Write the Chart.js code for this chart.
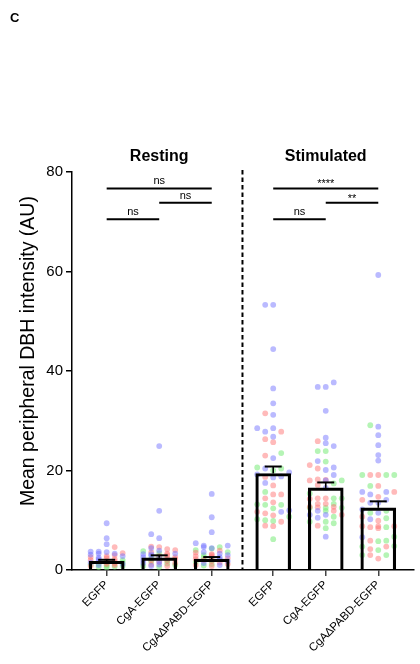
<!DOCTYPE html>
<html><head><meta charset="utf-8">
<script src="https://cdn.jsdelivr.net/npm/chart.js@4.4.1/dist/chart.umd.min.js"></script>
<style>html,body{margin:0;padding:0;background:#fff}</style>
</head><body>
<canvas id="c" width="420" height="664" style="width:420px;height:664px;display:block"></canvas>
<script>
// ---------- data ----------
const xLabels = ['EGFP', 'CgA-EGFP', 'CgA\u2206PABD-EGFP', 'EGFP', 'CgA-EGFP', 'CgA\u2206PABD-EGFP'];
const groupTitles = ['Resting', 'Stimulated'];
const yTicks = [0, 20, 40, 60, 80];
const yTitle = 'Mean peripheral DBH intensity (AU)';
const panelLetter = 'C';

const restMean = [1.75, 2.45, 2.2];
const restSem = [0.3, 0.5, 0.4];
const stimMean = [19.4, 16.5, 12.5];
const stimSem = [1.4, 1.1, 1.3];

// brackets: [1 vs 3, 2 vs 3, 1 vs 2]
const sigRest = ['ns', 'ns', 'ns'];
const sigStim = ['****', '**', 'ns'];
const sigLevels = [76.7, 73.8, 70.5];

const restEgfpBlue = [9.4, 6.4, 5.2, 3.7, 3.7, 3.6, 3.3, 3.3, 3.1, 2.8, 2.5, 2.2, 1.8, 1.5, 1.2, 1.0];
const restEgfpRed = [4.6, 3.4, 3.0, 2.8, 2.6, 2.4, 2.2, 2.0, 1.8, 1.6, 1.4, 1.2, 1.0, 0.8];
const restEgfpGreen = [2.0, 1.8, 1.5, 1.3, 1.1, 0.9, 0.8, 0.7, 0.6, 0.5];
const restCgaBlue = [24.9, 11.9, 7.2, 6.4, 4.4, 3.9, 3.3, 3.2, 3.2, 2.9, 2.6, 2.3, 2.0, 1.7, 1.4, 1.1, 0.8];
const restCgaRed = [4.7, 4.6, 4.2, 4.0, 3.6, 3.3, 3.0, 2.8, 2.6, 2.4, 2.2, 2.0, 1.8, 1.6, 1.4, 1.1, 0.8];
const restCgaGreen = [3.8, 3.4, 2.8, 2.3, 2.0, 1.7, 1.3, 1.0, 0.8, 0.6];
const restDeltaBlue = [15.3, 10.6, 7.6, 5.4, 4.9, 4.9, 4.6, 4.4, 3.6, 3.3, 3.0, 2.6, 2.2, 1.8, 1.4, 1.0];
const restDeltaRed = [3.9, 3.5, 3.2, 3.0, 2.8, 2.6, 2.4, 2.2, 2.0, 1.8, 1.5, 1.2, 1.0, 0.8];
const restDeltaGreen = [4.6, 4.3, 4.0, 3.6, 3.0, 2.5, 2.0, 1.6, 1.2, 0.9];

const stimEgfpBlue = [53.3, 53.3, 44.4, 36.5, 33.5, 31.2, 28.5, 28.5, 27.8, 26.8, 22.5, 20.4, 19.6, 19.2, 18.8, 18.6, 17.5, 12.0, 11.7];
const stimEgfpRed = [31.5, 27.8, 26.3, 25.7, 23.0, 18.7, 17.0, 15.2, 15.2, 14.4, 13.6, 11.7, 11.4, 11.0, 9.7, 8.8, 8.9];
const stimEgfpGreen = [23.5, 20.6, 20.4, 20.0, 15.7, 13.2, 13.1, 13.1, 12.4, 10.7, 10.0, 10.2, 9.85, 6.2];
const stimCgaBlue = [37.7, 36.8, 36.8, 32.0, 26.6, 25.5, 24.9, 21.9, 20.6, 20.1, 19.1, 18.0, 16.5, 11.9, 11.1, 11.1, 10.5, 6.7];
const stimCgaRed = [25.9, 21.1, 20.4, 18.1, 18.2, 18.0, 17.1, 14.4, 14.3, 14.4, 13.3, 13.3, 12.7, 12.7, 12.6, 11.9, 11.1, 8.9];
const stimCgaGreen = [23.9, 23.9, 21.8, 18.0, 17.4, 15.4, 14.4, 14.4, 13.3, 12.5, 12.5, 12.5, 11.9, 10.7, 9.7, 9.7, 9.4, 8.4];
const stimDeltaBlue = [59.3, 28.8, 27.1, 25.1, 23.1, 22.0, 15.7, 15.7, 15.2, 14.1, 13.5, 13.5, 12.2, 11.5, 10.2, 6.6];
const stimDeltaRed = [19.1, 19.1, 16.9, 15.7, 14.7, 14.1, 10.7, 9.9, 8.8, 8.4, 8.6, 8.8, 8.8, 5.9, 4.7, 4.2, 3.0, 2.3];
const stimDeltaGreen = [29.1, 19.1, 19.1, 19.1, 16.9, 11.9, 11.5, 10.4, 8.6, 6.7, 5.9, 5.8, 4.8, 4.7, 4.0, 3.0, 3.0];

// ---------- layout ----------
const W = 420, H = 664;
const plotLeft = 72, plotRight = 414, plotTop = 172, plotBottom = 570;
const groupGap = 0.17;
const xMin = 0.34, xMax = 6.85;
const FONT = '"Liberation Sans", Arial, Helvetica, sans-serif';
const catX = xLabels.map((_, i) => i + 1 + (i >= 3 ? groupGap : 0));
const pxPerY = (plotBottom - plotTop) / 80;
const pxPerX = (plotRight - plotLeft) / (xMax - xMin);

const COLORS = {
  blue: 'rgba(110,110,255,0.48)',
  red: 'rgba(255,110,110,0.48)',
  green: 'rgba(120,235,120,0.55)'
};

const catSets = [
  [restEgfpBlue, restEgfpRed, restEgfpGreen],
  [restCgaBlue, restCgaRed, restCgaGreen],
  [restDeltaBlue, restDeltaRed, restDeltaGreen],
  [stimEgfpBlue, stimEgfpRed, stimEgfpGreen],
  [stimCgaBlue, stimCgaRed, stimCgaGreen],
  [stimDeltaBlue, stimDeltaRed, stimDeltaGreen]
];

// deterministic beeswarm layout
const swarmPts = { blue: [], red: [], green: [] };
const colorNames = ['blue', 'red', 'green'];
catSets.forEach((sets, ci) => {
  const pts = [];
  sets.forEach((arr, k) => arr.forEach(v => pts.push({ v, c: colorNames[k] })));
  pts.sort((a, b) => a.v - b.v);
  const cands = [0, -8, 8, -16, 16, -4, 4, -12, 12, -20, 20];
  const placed = [];
  pts.forEach(p => {
    let best = null, bestN = 1e9;
    for (const off of cands) {
      const n = placed.filter(q => Math.abs(q.off - off) < 6.5 && Math.abs(q.v - p.v) * pxPerY < 5).length;
      if (n < bestN) { bestN = n; best = off; }
      if (n === 0) break;
    }
    placed.push({ v: p.v, off: best });
    swarmPts[p.c].push({ x: catX[ci] + best / pxPerX, y: p.v });
  });
});

const means = restMean.concat(stimMean);
const sems = restSem.concat(stimSem);

const extras = {
  id: 'extras',
  afterDatasetsDraw(chart) {
    const { ctx, scales: { x, y } } = chart;
    ctx.save();
    // error bars (upper)
    ctx.strokeStyle = '#000';
    means.forEach((m, i) => {
      const px = x.getPixelForValue(catX[i]);
      const yTop = y.getPixelForValue(m + sems[i]);
      const yM = y.getPixelForValue(m);
      ctx.lineWidth = 1.6;
      ctx.beginPath(); ctx.moveTo(px, yM); ctx.lineTo(px, yTop); ctx.stroke();
      ctx.lineWidth = 2;
      ctx.beginPath(); ctx.moveTo(px - 8.5, yTop); ctx.lineTo(px + 8.5, yTop); ctx.stroke();
    });
    // dashed separator
    const sepX = x.getPixelForValue((catX[2] + catX[3]) / 2);
    ctx.lineWidth = 2;
    ctx.setLineDash([4.5, 3]);
    ctx.beginPath(); ctx.moveTo(sepX, y.getPixelForValue(80) - 2); ctx.lineTo(sepX, y.getPixelForValue(0)); ctx.stroke();
    ctx.setLineDash([]);
    // group titles
    ctx.fillStyle = '#000';
    ctx.font = 'bold 16px ' + FONT;
    ctx.textAlign = 'center';
    ctx.textBaseline = 'alphabetic';
    groupTitles.forEach((t, g) => {
      const cx = x.getPixelForValue(catX[g * 3 + 1]);
      ctx.fillText(t, cx, y.getPixelForValue(80) - 11);
    });
    // significance brackets
    [sigRest, sigStim].forEach((labels, g) => {
      const a = catX[g * 3], b = catX[g * 3 + 1], c = catX[g * 3 + 2];
      const pairs = [[a, c], [b, c], [a, b]];
      pairs.forEach((pr, k) => {
        const yy = y.getPixelForValue(sigLevels[k]);
        const x1 = x.getPixelForValue(pr[0]), x2 = x.getPixelForValue(pr[1]);
        ctx.lineWidth = 2;
        ctx.beginPath(); ctx.moveTo(x1, yy); ctx.lineTo(x2, yy); ctx.stroke();
        ctx.font = '11px ' + FONT;
        ctx.fillText(labels[k], (x1 + x2) / 2, yy - (labels[k].startsWith('*') ? 1 : 4));
      });
    });
    // y axis title
    ctx.save();
    ctx.font = '19.5px ' + FONT;
    ctx.translate(34, y.getPixelForValue(44));
    ctx.rotate(-Math.PI / 2);
    ctx.textAlign = 'center';
    ctx.textBaseline = 'alphabetic';
    ctx.fillText(yTitle, 0, 0);
    ctx.restore();
    // panel letter
    ctx.font = 'bold 13px ' + FONT;
    ctx.textAlign = 'left';
    ctx.fillText(panelLetter, 10, 22);
    ctx.restore();
  }
};

new Chart(document.getElementById('c'), {
  type: 'scatter',
  data: {
    datasets: [
      {
        type: 'bar',
        data: means.map((m, i) => ({ x: catX[i], y: m })),
        backgroundColor: 'rgba(0,0,0,0)',
        borderColor: '#000',
        borderWidth: { top: 2.5, left: 2.5, right: 2.5, bottom: 0 },
        borderSkipped: false,
        barThickness: 35,
        order: 0
      },
      { data: swarmPts.blue, backgroundColor: COLORS.blue, pointRadius: 2.9, borderWidth: 0, order: 1 },
      { data: swarmPts.red, backgroundColor: COLORS.red, pointRadius: 2.9, borderWidth: 0, order: 2 },
      { data: swarmPts.green, backgroundColor: COLORS.green, pointRadius: 2.9, borderWidth: 0, order: 3 }
    ]
  },
  options: {
    responsive: false,
    animation: false,
    devicePixelRatio: 1,
    layout: { padding: { top: plotTop, right: W - plotRight, left: 0, bottom: 0 } },
    plugins: { legend: { display: false }, tooltip: { enabled: false } },
    scales: {
      x: {
        type: 'linear', min: xMin, max: xMax, offset: false,
        afterBuildTicks: ax => { ax.ticks = catX.map(v => ({ value: v })); },
        afterFit: ax => { ax.height = H - plotBottom; },
        grid: { offset: false, drawOnChartArea: false, drawTicks: true, tickLength: 6, tickColor: '#444', lineWidth: 1.5 },
        border: { display: true, color: '#000', width: 1.5 },
        ticks: {
          autoSkip: false, maxRotation: 45, minRotation: 45, padding: 2,
          color: '#000', font: { size: 11.5, family: FONT },
          callback: (v, i) => xLabels[i]
        }
      },
      y: {
        min: 0, max: 80,
        afterBuildTicks: ax => { ax.ticks = yTicks.map(v => ({ value: v })); },
        afterFit: ax => { ax.width = plotLeft; },
        grid: { drawOnChartArea: false, drawTicks: true, tickLength: 6, tickColor: '#000', lineWidth: 1.5 },
        border: { display: true, color: '#000', width: 1.5 },
        ticks: { color: '#000', padding: 3, font: { size: 15, family: FONT } }
      }
    }
  },
  plugins: [extras]
});
</script>
</body></html>
